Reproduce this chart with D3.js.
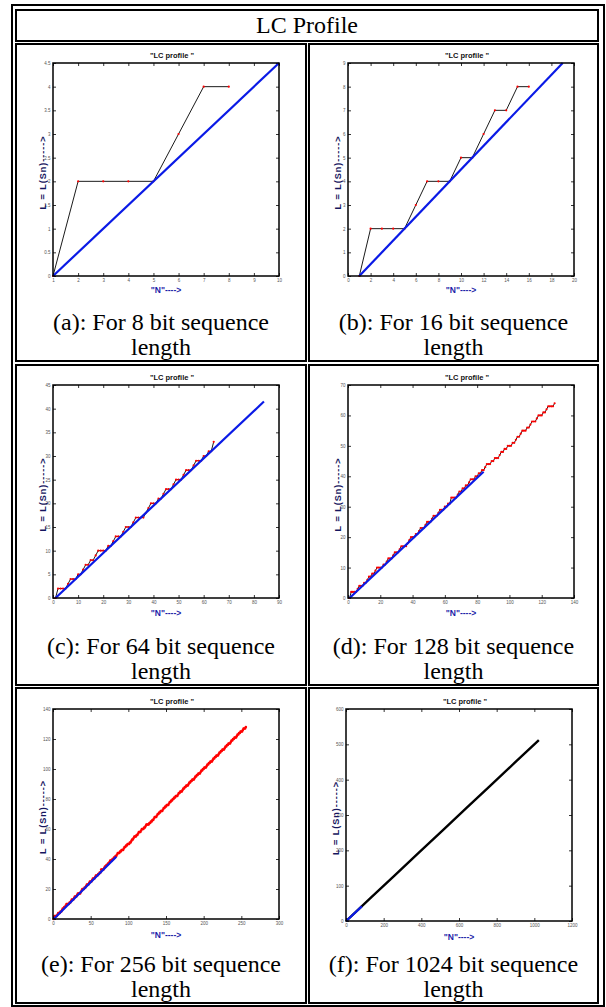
<!DOCTYPE html>
<html>
<head>
<meta charset="utf-8">
<script src="https://cdn.jsdelivr.net/npm/d3@7"></script>
<style>
  body { margin: 0; background: #fff; }
  svg { display: block; }
  .tick text { font-family: "Liberation Sans", Arial, sans-serif; font-size: 4.5px; fill: #555; }
  .tick line { stroke: #000; stroke-width: 0.8; }
</style>
</head>
<body>
<div id="chart"></div>
<script>
// linear complexity L(n), n = 1..256 (a)-(e); each shorter panel shows the first N values
let lcProfile = [
  0, 2, 2, 2, 2, 3, 4, 4, 4, 5, 5, 6, 7, 7, 8, 8,
  9, 10, 10, 10, 10, 11, 11, 12, 13, 13, 13, 14, 15, 15, 15, 16,
  17, 17, 17, 17, 18, 19, 20, 20, 20, 21, 21, 22, 23, 23, 23, 24,
  25, 25, 25, 26, 27, 27, 27, 28, 29, 29, 29, 30, 30, 31, 31, 33,
  33, 33, 33, 34, 35, 35, 36, 36, 37, 37, 38, 39, 39, 39, 40, 40,
  41, 41, 42, 42, 43, 44, 44, 44, 45, 45, 46, 46, 46, 47, 48, 48,
  49, 49, 50, 50, 50, 51, 51, 52, 53, 53, 54, 55, 55, 55, 56, 56,
  57, 58, 58, 58, 59, 60, 60, 60, 61, 61, 62, 63, 63, 63, 63, 64,
  64, 65, 65, 66, 66, 67, 68, 68, 68, 69, 70, 70, 71, 71, 72, 72,
  72, 73, 74, 74, 75, 75, 76, 76, 76, 77, 78, 78, 79, 79, 80, 80,
  81, 81, 82, 82, 82, 83, 84, 84, 85, 85, 85, 86, 87, 87, 88, 88,
  89, 89, 89, 90, 91, 91, 92, 92, 93, 93, 93, 94, 95, 95, 96, 96,
  97, 97, 97, 98, 99, 99, 100, 100, 101, 101, 101, 102, 103, 103, 104, 104,
  105, 105, 105, 106, 107, 107, 108, 108, 109, 109, 109, 110, 111, 111, 112, 112,
  113, 113, 113, 114, 115, 115, 116, 116, 117, 117, 117, 118, 119, 119, 120, 120,
  121, 121, 121, 122, 123, 123, 124, 124, 125, 125, 125, 126, 127, 127, 127, 128
]

// panel (f) is too dense to see steps, read as a straight black line
let lc1024N = [1, 128, 256, 384, 512, 640, 768, 896, 1024]
let lc1024L = [0, 64, 128, 192, 256, 320, 384, 448, 512]

let panelLetters = ["a", "b", "c", "d", "e", "f"]
let seqLengths = [8, 16, 64, 128, 256, 1024]

// blue reference line (start, end)
let blueN = [[1, 10], [1, 19], [1, 84], [1, 84], [1, 84], [1, 84]]
let blueL = [[0, 4.5], [0, 9], [0, 41.5], [0, 41.5], [0, 41.5], [0, 41.5]]

let xTickSets = [
  [1, 2, 3, 4, 5, 6, 7, 8, 9, 10],
  [0, 2, 4, 6, 8, 10, 12, 14, 16, 18, 20],
  [0, 10, 20, 30, 40, 50, 60, 70, 80, 90],
  [0, 20, 40, 60, 80, 100, 120, 140],
  [0, 50, 100, 150, 200, 250, 300],
  [0, 200, 400, 600, 800, 1000, 1200]
]
let yTickSets = [
  [0, 0.5, 1, 1.5, 2, 2.5, 3, 3.5, 4, 4.5],
  [0, 1, 2, 3, 4, 5, 6, 7, 8, 9],
  [0, 5, 10, 15, 20, 25, 30, 35, 40, 45],
  [0, 10, 20, 30, 40, 50, 60, 70],
  [0, 20, 40, 60, 80, 100, 120, 140],
  [0, 100, 200, 300, 400, 500, 600]
]

let W = 606, H = 1007

// table geometry
let cols = [[16, 306], [309, 598]]
let rows = [[44, 361], [365, 685], [688, 1003]]

// plot boxes inside the cells
let boxes = [
  {x: 53, y: 63, w: 226, h: 213},
  {x: 348, y: 63, w: 226, h: 213},
  {x: 53, y: 385, w: 226, h: 213},
  {x: 348, y: 385, w: 226, h: 213},
  {x: 53, y: 709, w: 226, h: 210},
  {x: 346, y: 709, w: 226, h: 212}
]
let xLabelDy = [17, 17, 18, 18, 19, 19]

let serif = "'Liberation Serif', 'Times New Roman', Times, serif"
let narrow = "'Liberation Sans Narrow', 'Arial Narrow', 'Liberation Sans', sans-serif"

let svg = d3.select("#chart")
  .append("svg")
  .attr("width", W)
  .attr("height", H)

// outer table border
svg.append("rect")
  .attr("x", 12).attr("y", 5)
  .attr("width", 592).attr("height", 1001)
  .attr("fill", "none").attr("stroke", "#000").attr("stroke-width", 2)

// header cell
svg.append("rect")
  .attr("x", 16).attr("y", 10)
  .attr("width", 582).attr("height", 31)
  .attr("fill", "none").attr("stroke", "#000").attr("stroke-width", 2)

svg.append("text")
  .attr("x", 307).attr("y", 33)
  .attr("text-anchor", "middle")
  .style("font-family", serif)
  .style("font-size", "24px")
  .style("fill", "#000")
  .text("LC Profile")

function drawPanel(i) {
  let r = Math.floor(i / 2), c = i % 2
  let cx0 = cols[c][0], cx1 = cols[c][1]
  let cy0 = rows[r][0], cy1 = rows[r][1]

  svg.append("rect")
    .attr("x", cx0).attr("y", cy0)
    .attr("width", cx1 - cx0).attr("height", cy1 - cy0)
    .attr("fill", "none").attr("stroke", "#000").attr("stroke-width", 2)

  // caption
  let cap = svg.append("text")
    .attr("text-anchor", "middle")
    .style("font-family", serif)
    .style("font-size", "24px")
    .style("fill", "#000")
  cap.append("tspan")
    .attr("x", (cx0 + cx1) / 2).attr("y", cy1 - 31)
    .text(`(${panelLetters[i]}): For ${seqLengths[i]} bit sequence`)
  cap.append("tspan")
    .attr("x", (cx0 + cx1) / 2).attr("y", cy1 - 6)
    .text("length")

  let box = boxes[i]
  let xt = xTickSets[i], yt = yTickSets[i]
  let xScale = d3.scaleLinear()
    .domain([xt[0], xt[xt.length - 1]])
    .range([box.x, box.x + box.w])
  let yScale = d3.scaleLinear()
    .domain([yt[0], yt[yt.length - 1]])
    .range([box.y + box.h, box.y])

  let g = svg.append("g").attr("class", "panel")

  // matlab style axes: ticks pointing inward on all four sides
  g.append("g")
    .attr("transform", `translate(0, ${box.y + box.h})`)
    .call(d3.axisBottom(xScale).tickValues(xt).tickSize(-3).tickPadding(2.5).tickFormat(d3.format("")))
  g.append("g")
    .attr("transform", `translate(0, ${box.y})`)
    .call(d3.axisTop(xScale).tickValues(xt).tickSize(-3).tickFormat(""))
  g.append("g")
    .attr("transform", `translate(${box.x}, 0)`)
    .call(d3.axisLeft(yScale).tickValues(yt).tickSize(-3).tickPadding(2.5).tickFormat(d3.format("")))
  g.append("g")
    .attr("transform", `translate(${box.x + box.w}, 0)`)
    .call(d3.axisRight(yScale).tickValues(yt).tickSize(-3).tickFormat(""))
  g.selectAll(".domain").remove()

  // data
  let pts
  if (i < 5) {
    pts = lcProfile.slice(0, seqLengths[i]).map((L, k) => ({n: k + 1, L: L}))
  } else {
    pts = lc1024N.map((n, k) => ({n: n, L: lc1024L[k]}))
  }
  let line = d3.line().x(d => xScale(d.n)).y(d => yScale(d.L))

  g.append("path")
    .datum(pts)
    .attr("d", line)
    .attr("fill", "none")
    .attr("stroke", "#000")
    .attr("stroke-width", i === 5 ? 2.4 : 0.9)

  if (i < 5) {
    g.selectAll(".dot")
      .data(pts)
      .enter()
      .append("circle")
      .attr("class", "dot")
      .attr("cx", d => xScale(d.n))
      .attr("cy", d => yScale(d.L))
      .attr("r", i === 4 ? 1.3 : 1.1)
      .attr("fill", "#ff0000")
  }

  let bluePts = blueN[i].map((n, k) => ({n: n, L: blueL[i][k]}))
  g.append("path")
    .datum(bluePts)
    .attr("d", line)
    .attr("fill", "none")
    .attr("stroke", "#0a1ae6")
    .attr("stroke-width", 2.2)

  // box
  g.append("rect")
    .attr("x", box.x).attr("y", box.y)
    .attr("width", box.w).attr("height", box.h)
    .attr("fill", "none").attr("stroke", "#000").attr("stroke-width", 1.5)

  // title and axis labels
  g.append("text")
    .attr("x", box.x + box.w / 2 + 6).attr("y", box.y - 5)
    .attr("text-anchor", "middle")
    .style("font-family", narrow)
    .style("font-size", "7.5px")
    .style("font-weight", "bold")
    .style("fill", "#111")
    .text('"LC profile "')

  g.append("text")
    .attr("transform", `translate(${box.x - 7}, ${box.y + box.h / 2 + 3}) rotate(-90)`)
    .attr("text-anchor", "middle")
    .style("font-family", "'Liberation Sans', Arial, sans-serif")
    .style("font-size", "9px")
    .style("font-weight", "bold")
    .style("letter-spacing", "1px")
    .style("fill", "#16165e")
    .text("L = L(Sn)----->")

  g.append("text")
    .attr("x", box.x + box.w / 2).attr("y", box.y + box.h + xLabelDy[i])
    .attr("text-anchor", "middle")
    .style("font-family", narrow)
    .style("font-size", "8.5px")
    .style("font-weight", "bold")
    .style("fill", "#1c1ca8")
    .text('"N"---->')
}

for (let i = 0; i < 6; i++) {
  drawPanel(i)
}
</script>
</body>
</html>
